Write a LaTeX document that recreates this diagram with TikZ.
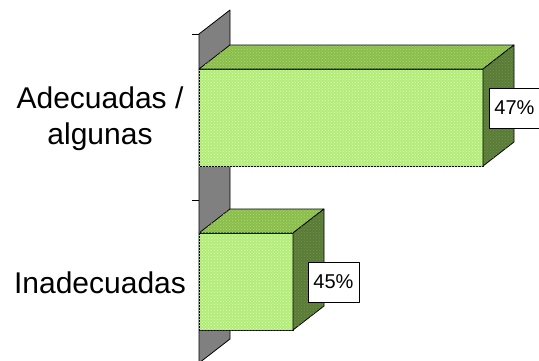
\documentclass[tikz,border=0pt]{standalone}
\usepackage{fontspec}
\setmainfont{Liberation Sans}
\usepackage{xcolor}
\definecolor{frontgr}{HTML}{B3EC7A}
\definecolor{frontdot}{HTML}{D9FFB5}
\definecolor{topgr}{HTML}{8BBD4C}
\definecolor{topdot}{HTML}{A9D873}
\definecolor{sidegr}{HTML}{5B7C38}
\definecolor{sidedot}{HTML}{6F9447}
\definecolor{wallgr}{gray}{0.5}
\usetikzlibrary{patterns}

\begin{document}
\begin{tikzpicture}[x=1pt, y=-1pt, line join=round,
  face/.style={draw=black, line width=0.8pt},
  val/.style={draw=black, fill=white, line width=0.8pt, font=\fontsize{20}{24}\selectfont, minimum width=51pt, minimum height=40pt, inner sep=0pt},
  cat/.style={font=\fontsize{30}{36}\selectfont, align=center, inner sep=0pt}]
\useasboundingbox (0,0) rectangle (539,360);
\begin{scope}
\clip (0,0) rectangle (539,360);
% back wall and axis
\draw[face, fill=wallgr] (199,34) -- (230,10) -- (230,339) -- (199,363) -- cycle;
\foreach \t in {34,200,363}
  \draw[line width=0.8pt] (192,\t) -- (199,\t);
% bars
\foreach \y/\r/\vx/\vy/\v in {69/483/514.5/108/47, 233/293/333.5/282/45}{
  \draw[face, fill=frontgr] (199,\y) rectangle (\r,\y+97);
  \fill[pattern=crosshatch dots, pattern color=frontdot] (199,\y) rectangle (\r,\y+97);
  \draw[face, fill=topgr] (199,\y) -- (230,\y-24) -- (\r+31,\y-24) -- (\r,\y) -- cycle;
  \fill[pattern=crosshatch dots, pattern color=topdot] (199,\y) -- (230,\y-24) -- (\r+31,\y-24) -- (\r,\y) -- cycle;
  \draw[face, fill=sidegr] (\r,\y) -- (\r+31,\y-24) -- (\r+31,\y+73) -- (\r,\y+97) -- cycle;
  \fill[pattern=crosshatch dots, pattern color=sidedot] (\r,\y) -- (\r+31,\y-24) -- (\r+31,\y+73) -- (\r,\y+97) -- cycle;
  \node[val] (lab\v) at (\vx,\vy) {\v\%};
}
\end{scope}
\node[cat] (ade) at (100,119) {Adecuadas /\\algunas};
\node[cat, anchor=base] (inade) at (100,293) {Inadecuadas};
\end{tikzpicture}
\end{document}
